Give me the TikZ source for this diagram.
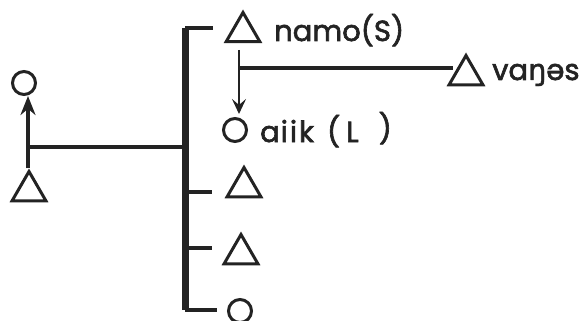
\documentclass[tikz,border=0pt]{standalone}
\usepackage{fontspec}
\setmainfont{Poppins}
\newfontfamily\labfont{Poppins}[FakeBold=2.2]
\newfontfamily\ipafont{DejaVu Sans}[FakeBold=1.4]
\usetikzlibrary{arrows.meta,shapes.geometric}
\definecolor{inkline}{RGB}{35,35,35}

\begin{document}
\begin{tikzpicture}[x=1pt, y=-1pt,
  >=Stealth,
  kin/.style={draw=inkline, line width=3.2pt},
  sibbar/.style={draw=inkline, line width=7pt},
  male/.style={regular polygon, regular polygon sides=3, draw=inkline,
    line width=3pt, minimum size=39pt, inner sep=0pt},
  female/.style={circle, draw=inkline, line width=3pt,
    minimum size=23pt, inner sep=0pt},
  lab/.style={font=\labfont\fontsize{29}{32}\selectfont, text=inkline,
    anchor=base west, inner sep=0pt},
]

  % frame of the scan
  \useasboundingbox (0,0) rectangle (586,321);

  % --- parents, far left ---
  \node[female] (mother) at (24,83) {};
  \node[male] (father) at (29,191) {};
  \coordinate (pline) at (28,147);

  % --- sibling set ---
  \node[male] (namo) at (243,32) {};
  \node[female] (aiik) at (235,130) {};
  \node[male] (sib3) at (244,187) {};
  \node[male] (sib4) at (241,254) {};
  \node[female] (sib5) at (240,311) {};

  % --- spouse of namo ---
  \node[male] (vanes) at (466,75) {};

  % --- labels ---
  \node[lab] (namolab) at (274,41) {namo(S)};
  \node[lab] (aiiklab) at (260,142)
    {a\hspace{1pt}i\hspace{2pt}i\hspace{2pt}k\hspace{13pt}(\hspace{6pt}L\hspace{20pt}\raisebox{3pt}{)}};
  \node[lab] (vaneslab) at (492,80) {va{\ipafont ŋ}əs};

  % --- sibling bar ---
  \coordinate (bartop) at (185,28);
  \coordinate (barbot) at (185,310);
  \draw[sibbar] (bartop) -- (barbot);
  \draw[kin] (bartop) -- (213,28);
  \draw[kin] (barbot) -- (217,310);
  \draw[kin] (bartop |- 0,192) -- (212,192);
  \draw[kin] (bartop |- 0,248) -- (212,248);

  % parents -> sibling bar
  \draw[kin] (pline) -- (bartop |- pline);
  \draw[kin, -{Stealth[length=19pt, width=15pt]}]
    (father.north -| pline) -- (mother.south -| pline);

  % namo -> aiik, and the line out to vanes
  \coordinate (arrtop) at (239,50);
  \coordinate (arrbot) at (239,114);
  \draw[kin, line width=2.2pt, -{Stealth[length=15pt, width=14pt, inset=6pt]}]
    (arrtop) -- (arrbot);
  \draw[kin] (arrtop |- 0,68) -- (vanes.west |- 0,68);

\end{tikzpicture}
\end{document}
